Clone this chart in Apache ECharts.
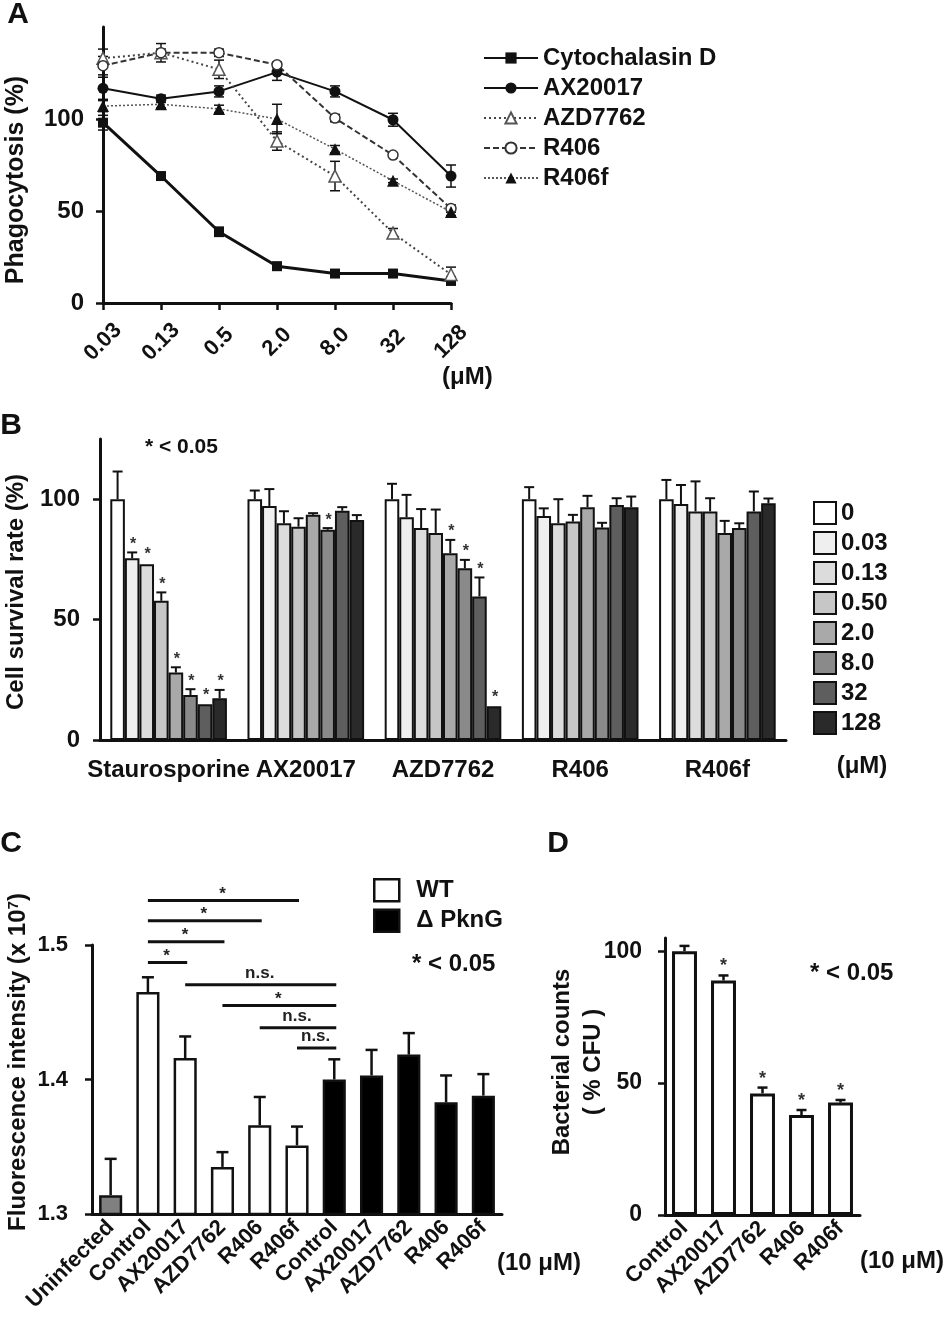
<!DOCTYPE html>
<html>
<head>
<meta charset="utf-8">
<title>Phagocytosis / survival / fluorescence / CFU</title>
<script src="https://cdn.jsdelivr.net/npm/echarts@6.0.0/dist/echarts.min.js"></script>
<style>
  html, body { margin: 0; padding: 0; background: #fff; }
  #chart { width: 950px; height: 1340px; }
</style>
</head>
<body>
<div id="chart"></div>
<script>
// ---- A: phagocytosis (%) vs dose ----
var doses = ['0.03', '0.13', '0.5', '2.0', '8.0', '32', '128'];
var cytoD = [98, 69, 38.7, 20, 16, 16, 12];
var cytoDErr = [4, 1.5, 2.5, 2, 1.5, 1.5, 2];
var ax20017 = [116.7, 111, 115, 125.5, 115, 99.6, 69];
var ax20017Err = [6, 2, 3, 4.5, 3, 3.5, 6];
var azd7762 = [133, 136, 127, 88, 69, 38, 15.5];
var azd7762Err = [5, 5, 5, 5, 8, 2.5, 4];
var r406 = [129, 136, 136, 129.5, 100.5, 80.4, 51.3];
var r406Err = [5, 2, 2, 1.5, 2, 1, 2];
var r406f = [107, 108, 105.5, 100, 83.6, 66.4, 49.5];
var r406fErr = [3, 2, 2, 8, 2, 1, 2];

// ---- B: cell survival rate (%) ----
var drugs = ['Staurosporine', 'AX20017', 'AZD7762', 'R406', 'R406f'];
var conc = ['0', '0.03', '0.13', '0.50', '2.0', '8.0', '32', '128'];
var survStauro = [100, 75.5, 73, 57.8, 28, 18.7, 14.8, 17.3];
var survStauroErr = [11.5, 2.4, 0.5, 3.5, 2.2, 2.4, 0.3, 3.5];
var survStauroSig = [0, 1, 1, 1, 1, 1, 1, 1];
var survAX = [100, 97.2, 90, 88.6, 93.5, 87.3, 95.2, 91.4];
var survAXErr = [3.6, 7, 5, 3.5, 0.7, 0.7, 1.5, 2];
var survAXSig = [0, 0, 0, 0, 0, 1, 0, 0];
var survAZD = [100, 92.5, 88, 86, 77.6, 71.3, 59.6, 14];
var survAZDErr = [6.4, 9.3, 7.9, 9.7, 5.5, 3.5, 7.9, 0.4];
var survAZDSig = [0, 0, 0, 0, 1, 1, 1, 1];
var survR406 = [100, 93, 90, 90.7, 96.7, 88.2, 97.6, 96.7];
var survR406Err = [5, 3.2, 10, 2.8, 4.7, 2, 2.8, 4.4];
var survR406Sig = [0, 0, 0, 0, 0, 0, 0, 0];
var survR406f = [100, 98, 94.9, 94.9, 86, 88, 94.9, 98.3];
var survR406fErr = [8, 7.9, 12.5, 5.5, 5, 2, 8.3, 2];
var survR406fSig = [0, 0, 0, 0, 0, 0, 0, 0];

// ---- C: fluorescence intensity (x 10^7) ----
var cCats = ['Uninfected', 'Control', 'AX20017', 'AZD7762', 'R406', 'R406f',
             'Control', 'AX20017', 'AZD7762', 'R406', 'R406f'];
var cStrain = ['none', 'WT', 'WT', 'WT', 'WT', 'WT', 'PknG', 'PknG', 'PknG', 'PknG', 'PknG'];
var cMean = [1.314, 1.465, 1.416, 1.335, 1.366, 1.351, 1.400, 1.403, 1.4185, 1.383, 1.388];
var cErr = [0.027, 0.011, 0.016, 0.011, 0.021, 0.014, 0.015, 0.019, 0.016, 0.020, 0.016];
var sigFrom = [1, 1, 1, 1, 2, 3, 4, 5];
var sigTo = [5, 4, 3, 2, 6, 6, 6, 6];
var sigLevel = [1.533, 1.518, 1.5025, 1.487, 1.4705, 1.455, 1.4385, 1.4235];
var sigMark = ['*', '*', '*', '*', 'n.s.', '*', 'n.s.', 'n.s.'];

// ---- D: bacterial counts (% CFU) ----
var dCats = ['Control', 'AX20017', 'AZD7762', 'R406', 'R406f'];
var dMean = [100, 88.9, 46.1, 37.9, 42.6];
var dErr = [2, 1.9, 2.2, 1.9, 1];
var dSig = [0, 1, 1, 1, 1];

var FONT = "'Liberation Sans', Arial, Helvetica, sans-serif";
var INK = '#111';
var shades = ['#ffffff', '#efefef', '#dcdcdc', '#c6c6c6', '#a9a9a9', '#8a8a8a', '#5e5e5e', '#2a2a2a'];

function lbl(size, extra) {
  var o = { color: INK, fontFamily: FONT, fontWeight: 'bold', fontSize: size };
  for (var k in extra) o[k] = extra[k];
  return o;
}
function txt(x, y, text, size, align, extra) {
  var st = { text: text, fill: INK, font: 'bold ' + size + 'px ' + FONT,
             align: align || 'left', textAlign: align || 'left',
             verticalAlign: 'middle', textVerticalAlign: 'middle' };
  var el = { type: 'text', x: x, y: y, style: st, silent: true };
  for (var k in extra) el[k] = extra[k];
  return el;
}
function seg(x1, y1, x2, y2, w) {
  return { type: 'line', shape: { x1: x1, y1: y1, x2: x2, y2: y2 },
           style: { stroke: INK, lineWidth: w } };
}

// error bars for panel A (both directions)
function renderErrA(params, api) {
  var x = api.value(0), v = api.value(1), e = api.value(2);
  var lo = api.coord([x, v - e]), hi = api.coord([x, v + e]);
  return { type: 'group', children: [
    seg(lo[0], lo[1], hi[0], hi[1], 1.5),
    seg(lo[0] - 5, lo[1], lo[0] + 5, lo[1], 1.5),
    seg(hi[0] - 5, hi[1], hi[0] + 5, hi[1], 1.5)
  ] };
}

// upper error bar + optional star, for grouped bars of panel B
function renderErrB(params, api) {
  var g = api.value(0), k = api.value(1), v = api.value(2), e = api.value(3), s = api.value(4);
  var band = api.size([1, 0])[0];
  var groupW = band * 0.85, barW = groupW / conc.length;
  var cx = api.coord([g, 0])[0] - groupW / 2 + (k + 0.5) * barW;
  var top = api.coord([g, v])[1], hi = api.coord([g, v + e])[1];
  var ch = [];
  if (e > 0.6) {
    ch.push(seg(cx, top, cx, hi, 2));
    ch.push(seg(cx - 5, hi, cx + 5, hi, 2));
  }
  if (s) ch.push({ type: 'text', x: cx + 1, y: hi - 8,
    style: { text: '*', fill: '#333', font: 'bold 16px ' + FONT, align: 'center', textAlign: 'center',
             verticalAlign: 'middle', textVerticalAlign: 'middle' } });
  return { type: 'group', children: ch };
}

// upper error bar + optional star, single bar per category (C, D)
function makeErrSingle(capHalf, lw) {
  return function (params, api) {
    var i = api.value(0), v = api.value(1), e = api.value(2), s = api.value(3);
    var top = api.coord([i, v]), hi = api.coord([i, v + e]);
    var ch = [seg(top[0], top[1], hi[0], hi[1], lw), seg(hi[0] - capHalf, hi[1], hi[0] + capHalf, hi[1], lw)];
    if (s) ch.push({ type: 'text', x: hi[0], y: hi[1] - 9,
      style: { text: '*', fill: '#333', font: 'bold 18px ' + FONT, align: 'center', textAlign: 'center',
               verticalAlign: 'middle', textVerticalAlign: 'middle' } });
    return { type: 'group', children: ch };
  };
}

function renderSig(params, api) {
  var a = api.coord([api.value(0), api.value(2)]);
  var b = api.coord([api.value(1), api.value(2)]);
  var mark = sigMark[params.dataIndex];
  var star = mark === '*';
  return { type: 'group', children: [
    seg(a[0], a[1], b[0] + 2, b[1], 3),
    { type: 'text', x: (a[0] + b[0]) / 2, y: star ? a[1] - 6 : a[1] - 3,
      style: { text: mark, fill: '#222', font: 'bold 17px ' + FONT, align: 'center', textAlign: 'center',
               verticalAlign: star ? 'middle' : 'bottom', textVerticalAlign: star ? 'middle' : 'bottom' } }
  ] };
}

// --- build series data from the arrays above ---
var aNames = ['Cytochalasin D', 'AX20017', 'AZD7762', 'R406', 'R406f'];
var aMeans = [cytoD, ax20017, azd7762, r406, r406f];
var aErrs = [cytoDErr, ax20017Err, azd7762Err, r406Err, r406fErr];
var aErrData = [];
aMeans.forEach(function (m, c) {
  m.forEach(function (v, i) { aErrData.push([i, v, aErrs[c][i]]); });
});

var bMeans = [survStauro, survAX, survAZD, survR406, survR406f];
var bErrs = [survStauroErr, survAXErr, survAZDErr, survR406Err, survR406fErr];
var bSigs = [survStauroSig, survAXSig, survAZDSig, survR406Sig, survR406fSig];
var bErrData = [];
bMeans.forEach(function (m, g) {
  m.forEach(function (v, k) { bErrData.push([g, k, v, bErrs[g][k], bSigs[g][k]]); });
});

var cErrData = cMean.map(function (v, i) { return [i, v, cErr[i], 0]; });
var cSigData = sigFrom.map(function (f, i) { return [f, sigTo[i], sigLevel[i]]; });
var dErrData = dMean.map(function (v, i) { return [i, v, dErr[i], dSig[i]]; });

function strainData(key) {
  return cMean.map(function (v, i) { return cStrain[i] === key ? v : '-'; });
}

var aStyles = [
  { symbol: 'rect', symbolSize: 10, itemStyle: { color: INK }, lineStyle: { color: INK, width: 3, type: 'solid' } },
  { symbol: 'circle', symbolSize: 11, itemStyle: { color: INK }, lineStyle: { color: INK, width: 2, type: 'solid' } },
  { symbol: 'triangle', symbolSize: 12, itemStyle: { color: '#fff', borderColor: '#555', borderWidth: 1.5 },
    lineStyle: { color: '#444', width: 2, type: [2, 3] } },
  { symbol: 'circle', symbolSize: 10, itemStyle: { color: '#fff', borderColor: '#333', borderWidth: 1.5 },
    lineStyle: { color: '#333', width: 2, type: [6, 3] } },
  { symbol: 'triangle', symbolSize: 12, itemStyle: { color: INK }, lineStyle: { color: '#555', width: 1.5, type: [2, 2] } }
];

var series = [];
aNames.forEach(function (n, c) {
  series.push({
    name: n, type: 'line', xAxisIndex: 0, yAxisIndex: 0, data: aMeans[c],
    symbol: aStyles[c].symbol, symbolSize: aStyles[c].symbolSize,
    itemStyle: aStyles[c].itemStyle, lineStyle: aStyles[c].lineStyle,
    showAllSymbol: true, z: 3
  });
});
series.push({ name: 'errA', type: 'custom', xAxisIndex: 0, yAxisIndex: 0, data: aErrData,
  encode: { x: 0, y: 1 }, renderItem: renderErrA, z: 2 });

conc.forEach(function (cn, k) {
  series.push({
    name: cn, type: 'bar', xAxisIndex: 1, yAxisIndex: 1,
    data: bMeans.map(function (m) { return m[k]; }),
    barGap: 0, barCategoryGap: '15%',
    itemStyle: { color: shades[k], borderColor: INK, borderWidth: 2 }
  });
});
series.push({ name: 'errB', type: 'custom', xAxisIndex: 1, yAxisIndex: 1, data: bErrData,
  encode: { x: 0, y: 2 }, renderItem: renderErrB, z: 4 });

series.push({ name: 'Uninfected', type: 'bar', xAxisIndex: 2, yAxisIndex: 2, data: strainData('none'),
  barWidth: '62%', barGap: '-100%', itemStyle: { color: '#808080', borderColor: INK, borderWidth: 2.5 } });
series.push({ name: 'WT', type: 'bar', xAxisIndex: 2, yAxisIndex: 2, data: strainData('WT'),
  barWidth: '62%', barGap: '-100%', itemStyle: { color: '#fff', borderColor: INK, borderWidth: 2.5 } });
series.push({ name: '\u0394 PknG', type: 'bar', xAxisIndex: 2, yAxisIndex: 2, data: strainData('PknG'),
  barWidth: '62%', barGap: '-100%', itemStyle: { color: '#000', borderColor: INK, borderWidth: 2.5 } });
series.push({ name: 'errC', type: 'custom', xAxisIndex: 2, yAxisIndex: 2, data: cErrData,
  encode: { x: 0, y: 1 }, renderItem: makeErrSingle(6, 2.5), z: 4 });
series.push({ name: 'sigC', type: 'custom', xAxisIndex: 2, yAxisIndex: 2, data: cSigData,
  encode: { x: [0, 1], y: 2 }, renderItem: renderSig, clip: false, z: 4 });

series.push({ name: 'CFU', type: 'bar', xAxisIndex: 3, yAxisIndex: 3, data: dMean,
  barWidth: '64%', itemStyle: { color: '#fff', borderColor: INK, borderWidth: 3 } });
series.push({ name: 'errD', type: 'custom', xAxisIndex: 3, yAxisIndex: 3, data: dErrData,
  encode: { x: 0, y: 1 }, renderItem: makeErrSingle(5, 2.5), z: 4 });

function valAxis(grid, min, max, ticks, margin, size, fmt) {
  return {
    type: 'value', gridIndex: grid, min: min, max: max,
    axisLine: { show: true, lineStyle: { color: INK, width: 3 } },
    axisTick: { show: true, length: 7, customValues: ticks, lineStyle: { color: INK, width: 2.5 } },
    axisLabel: lbl(size, { margin: margin, customValues: ticks, formatter: fmt }),
    splitLine: { show: false }
  };
}
function catAxis(grid, data, label, extra) {
  var o = {
    type: 'category', gridIndex: grid, data: data,
    axisLine: { show: true, lineStyle: { color: INK, width: 3 } },
    axisTick: { show: false },
    axisLabel: label,
    splitLine: { show: false }
  };
  for (var k in extra) o[k] = extra[k];
  return o;
}

var legendText = lbl(24, { lineHeight: 24 });

var option = {
  animation: false,
  backgroundColor: '#fff',
  textStyle: { fontFamily: FONT, color: INK },
  grid: [
    { left: 103, top: 27, width: 348, height: 276, outerBoundsMode: 'none' },
    { left: 100, top: 439, width: 686, height: 301, outerBoundsMode: 'none' },
    { left: 92, top: 945, width: 410, height: 269, outerBoundsMode: 'none' },
    { left: 665, top: 938, width: 195, height: 277, outerBoundsMode: 'none' }
  ],
  xAxis: [
    // dose labels sit centred under each tick in panel A
    catAxis(0, doses, lbl(22, { rotate: 45, align: 'center', verticalAlign: 'middle', margin: 39, interval: 0 }), {
      boundaryGap: false,
      axisTick: { show: true, length: 7, alignWithLabel: true, interval: 0, lineStyle: { color: INK, width: 2.5 } } }),
    catAxis(1, drugs, lbl(24, { margin: 18, interval: 0 })),
    catAxis(2, cCats, lbl(22, { rotate: 45, margin: 10, interval: 0 })),
    catAxis(3, dCats, lbl(22, { rotate: 45, margin: 10, interval: 0 }))
  ],
  yAxis: [
    valAxis(0, 0, 150, [0, 50, 100], 19, 24),
    valAxis(1, 0, 125, [0, 50, 100], 20, 24),
    valAxis(2, 1.3, 1.5, [1.3, 1.4, 1.5], 24, 22, function (v) { return v.toFixed(1); }),
    valAxis(3, 0, 105, [0, 50, 100], 23, 23)
  ],
  legend: [
    { data: aNames, left: 483, top: 46, orient: 'vertical', itemWidth: 54, itemHeight: 14,
      itemGap: 6, padding: 0, selectedMode: false, textStyle: legendText },
    { data: conc, left: 813, top: 501, orient: 'vertical', icon: 'rect', itemWidth: 22, itemHeight: 22,
      itemGap: 6, padding: 0, selectedMode: false, textStyle: legendText,
      itemStyle: { borderColor: INK, borderWidth: 2 } },
    { data: ['WT', '\u0394 PknG'], left: 373, top: 878, orient: 'vertical', icon: 'rect', itemWidth: 25, itemHeight: 22,
      itemGap: 6, padding: 0, selectedMode: false,
      textStyle: lbl(24, { lineHeight: 24, padding: [0, 0, 0, 12] }),
      itemStyle: { borderColor: INK, borderWidth: 2.5 } }
  ],
  graphic: [
    txt(18, 15, 'A', 30, 'center'),
    txt(11, 426, 'B', 30, 'center'),
    txt(11, 844, 'C', 30, 'center'),
    txt(558, 844, 'D', 30, 'center'),
    txt(16, 180, 'Phagocytosis (%)', 25, 'center', { rotation: Math.PI / 2 }),
    txt(16, 592, 'Cell survival rate (%)', 24, 'center', { rotation: Math.PI / 2 }),
    { type: 'text', x: 18, y: 1062, rotation: Math.PI / 2, silent: true,
      style: { text: 'Fluorescence intensity (x 10{sup|7})', fill: INK, font: 'bold 24px ' + FONT,
               align: 'center', textAlign: 'center', verticalAlign: 'middle', textVerticalAlign: 'middle',
               rich: { sup: { fontSize: 15, fontWeight: 'bold', fontFamily: FONT, fill: INK, verticalAlign: 'top', lineHeight: 24 } } } },
    txt(562, 1062, 'Bacterial counts', 24, 'center', { rotation: Math.PI / 2 }),
    txt(593, 1062, '( % CFU )', 24, 'center', { rotation: Math.PI / 2 }),
    txt(442, 377, '(\u03bcM)', 24, 'left'),
    txt(862, 766, '(\u03bcM)', 24, 'center'),
    txt(145, 447, '* < 0.05', 21, 'left'),
    txt(412, 964, '* < 0.05', 24, 'left'),
    txt(810, 973, '* < 0.05', 24, 'left'),
    txt(497, 1263, '(10 \u03bcM)', 24, 'left'),
    txt(860, 1261, '(10 \u03bcM)', 24, 'left')
  ],
  series: series
};

var chart = echarts.init(document.getElementById('chart'), null, { renderer: 'canvas' });
chart.setOption(option);
</script>
</body>
</html>
